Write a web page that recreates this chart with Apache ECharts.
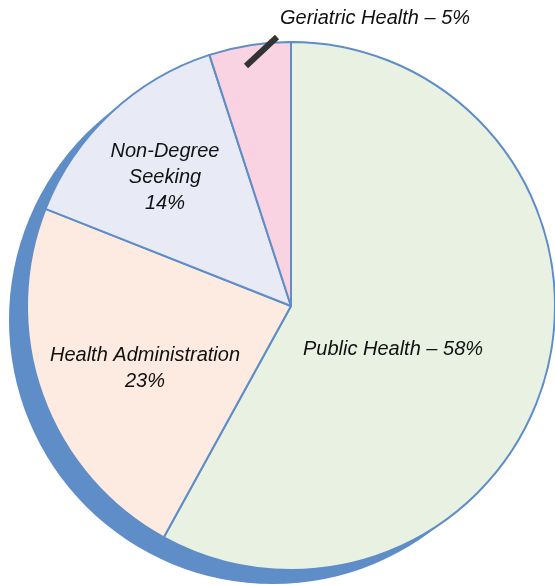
<!DOCTYPE html>
<html>
<head>
<meta charset="utf-8">
<script src="https://cdn.jsdelivr.net/npm/echarts@6/dist/echarts.min.js"></script>
<style>
html,body{margin:0;padding:0;background:#fff;}
#chart{width:555px;height:585px;}
</style>
</head>
<body>
<div id="chart"></div>
<script>
var categories = ['Public Health', 'Health Administration', 'Non-Degree Seeking', 'Geriatric Health'];
var values = [58, 23, 14, 5];
var labelTexts = ['Public Health – 58%', 'Health Administration\n23%', 'Non-Degree\nSeeking\n14%', 'Geriatric Health – 5%'];
var colors = ['#E9F1E2', '#FDEAE1', '#E8EBF5', '#F9D3E1'];

var FONT = '"Liberation Sans Narrow", "Liberation Sans", Arial, sans-serif';
var labelPos = [[393, 349], [145, 368], [165, 177], [375, 18]];
var OUTSIDE = 3;

var chart = echarts.init(document.getElementById('chart'), null, {renderer: 'canvas'});

var labelBase = {
  color: '#111',
  fontFamily: FONT,
  fontStyle: 'italic',
  fontSize: 20,
  lineHeight: 26,
  align: 'center'
};

function layout(params) {
  var i = params.dataIndex;
  var p = labelPos[i];
  var out = {x: p[0], y: p[1], align: 'center', verticalAlign: 'middle'};
  if (i === OUTSIDE) {
    out.labelLinePoints = [[246, 66], [261.5, 51.5], [277, 37]];
  }
  return out;
}

var mainData = categories.map(function (c, i) {
  return {
    name: c,
    value: values[i],
    itemStyle: {color: colors[i]},
    label: {show: i !== OUTSIDE, position: 'inside', formatter: labelTexts[i]},
    labelLine: {show: false}
  };
});

var overlayData = categories.map(function (c, i) {
  return {
    name: c,
    value: values[i],
    label: {show: i === OUTSIDE, position: 'outside', formatter: labelTexts[i]},
    labelLine: {show: i === OUTSIDE}
  };
});

var total = values.reduce(function (a, b) { return a + b; }, 0);

chart.setOption({
  animation: false,
  series: [
    {
      type: 'pie',
      silent: true,
      z: 1,
      center: [273, 320],
      radius: 264,
      label: {show: false},
      labelLine: {show: false},
      itemStyle: {color: '#5F8DC7', borderWidth: 0},
      data: [{name: 'shadow', value: total}]
    },
    {
      type: 'pie',
      z: 2,
      center: [291, 306],
      radius: 264,
      startAngle: 90,
      clockwise: true,
      avoidLabelOverlap: false,
      itemStyle: {borderColor: '#5E8DC8', borderWidth: 2},
      label: labelBase,
      labelLayout: layout,
      data: mainData
    },
    {
      type: 'pie',
      silent: true,
      z: 3,
      center: [291, 306],
      radius: 264,
      startAngle: 90,
      clockwise: true,
      avoidLabelOverlap: false,
      itemStyle: {color: 'rgba(0,0,0,0)', borderWidth: 0},
      label: labelBase,
      labelLine: {
        smooth: false,
        minTurnAngle: 0,
        maxSurfaceAngle: 180,
        lineStyle: {color: '#333', width: 6, cap: 'butt'}
      },
      labelLayout: layout,
      data: overlayData
    }
  ]
});
</script>
</body>
</html>
